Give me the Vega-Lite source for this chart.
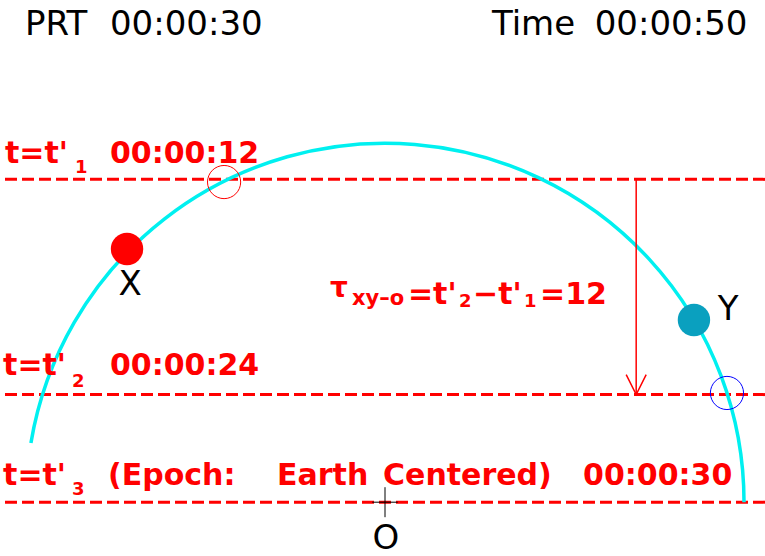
{
  "$schema": "https://vega.github.io/schema/vega-lite/v6.json",
  "width": 765,
  "height": 556,
  "autosize": {"type": "none"},
  "padding": 0,
  "background": "white",
  "config": {"view": {"stroke": null}},
  "datasets": {
    "levels": [
      {"label": "t'1", "t": 12},
      {"label": "t'2", "t": 24},
      {"label": "t'3", "t": 30}
    ],
    "orbit": [{"name": "orbit", "x": 0, "t": 30}],
    "arrow": [{"x": 14, "t": 12, "t2": 24}],
    "objects": [
      {"name": "X", "x": -14.38, "t": 15.88},
      {"name": "Y", "x": 17.22, "t": 19.84}
    ],
    "crossings": [
      {"name": "X", "x": -8.97, "t": 12.15},
      {"name": "Y", "x": 19.06, "t": 23.91}
    ],
    "origin": [{"name": "O", "x": 0, "t": 30}],
    "header": [
      {"text": "PRT", "x": -20.07, "t": 3.95},
      {"text": "00:00:30", "x": -15.33, "t": 3.95},
      {"text": "Time", "x": 5.96, "t": 3.95},
      {"text": "00:00:50", "x": 11.69, "t": 3.95}
    ],
    "names": [
      {"text": "X", "x": -14.21, "t": 18.45},
      {"text": "Y", "x": 19.12, "t": 19.84}
    ],
    "originName": [{"text": "O", "x": 0.05, "t": 33}],
    "redMain": [
      {"text": "t=t'", "x": -21.18, "t": 11.09},
      {"text": "00:00:12", "x": -15.33, "t": 11.09},
      {"text": "t=t'", "x": -21.29, "t": 22.91},
      {"text": "00:00:24", "x": -15.33, "t": 22.91},
      {"text": "t=t'", "x": -21.29, "t": 29.04},
      {"text": "(Epoch:", "x": -15.44, "t": 29.04},
      {"text": "Earth", "x": -6.02, "t": 29.04},
      {"text": "Centered)", "x": -0.11, "t": 29.04},
      {"text": "00:00:30", "x": 11.04, "t": 29.04},
      {"text": "=t'", "x": 1.28, "t": 18.95},
      {"text": "−t'", "x": 4.91, "t": 18.95},
      {"text": "=12", "x": 8.64, "t": 18.95}
    ],
    "redSub": [
      {"text": "1", "x": -17.28, "t": 11.65},
      {"text": "2", "x": -17.45, "t": 23.58},
      {"text": "3", "x": -17.45, "t": 29.6},
      {"text": "2", "x": 4.12, "t": 19.12},
      {"text": "1", "x": 7.75, "t": 19.12}
    ],
    "tau": [{"text": "τ", "x": -3.07, "t": 18.56}],
    "tauSub": [{"text": "xy–o", "x": -1.84, "t": 19.0}]
  },
  "layer": [
    {
      "data": {"name": "levels"},
      "mark": {"type": "rule", "color": "#ff0000", "strokeWidth": 3, "strokeDash": [12, 5]},
      "encoding": {
        "y": {"field": "t", "type": "quantitative", "scale": {"domain": [2, 33], "reverse": true, "nice": false, "zero": false}, "axis": null}
      }
    },
    {
      "data": {"name": "orbit"},
      "mark": {"type": "arc", "radius": 359, "radius2": 359, "theta": -1.405, "theta2": 1.5708, "filled": false, "stroke": "#00f0f0", "strokeWidth": 3.5},
      "encoding": {
        "x": {"field": "x", "type": "quantitative", "scale": {"domain": [-21.46, 21.18], "nice": false, "zero": false}, "axis": null},
        "y": {"field": "t", "type": "quantitative", "scale": {"domain": [2, 33], "reverse": true, "nice": false, "zero": false}, "axis": null}
      }
    },
    {
      "data": {"name": "arrow"},
      "mark": {"type": "rule", "color": "#ff0000", "strokeWidth": 1.5},
      "encoding": {
        "x": {"field": "x", "type": "quantitative", "scale": {"domain": [-21.46, 21.18], "nice": false, "zero": false}, "axis": null},
        "y": {"field": "t", "type": "quantitative", "scale": {"domain": [2, 33], "reverse": true, "nice": false, "zero": false}, "axis": null},
        "y2": {"field": "t2"}
      }
    },
    {
      "data": {"name": "arrow"},
      "mark": {"type": "point", "shape": "M-0.5,-1L0,0L0.5,-1", "size": 1600, "filled": false, "stroke": "#ff0000", "strokeWidth": 1.5, "opacity": 1},
      "encoding": {
        "x": {"field": "x", "type": "quantitative", "scale": {"domain": [-21.46, 21.18], "nice": false, "zero": false}, "axis": null},
        "y": {"field": "t2", "type": "quantitative", "scale": {"domain": [2, 33], "reverse": true, "nice": false, "zero": false}, "axis": null}
      }
    },
    {
      "data": {"name": "origin"},
      "mark": {"type": "point", "shape": "M-0.85,0L0.85,0M0,-1L0,1", "size": 900, "filled": false, "stroke": "#000000", "strokeWidth": 1, "opacity": 1},
      "encoding": {
        "x": {"field": "x", "type": "quantitative", "scale": {"domain": [-21.46, 21.18], "nice": false, "zero": false}, "axis": null},
        "y": {"field": "t", "type": "quantitative", "scale": {"domain": [2, 33], "reverse": true, "nice": false, "zero": false}, "axis": null}
      }
    },
    {
      "data": {"name": "crossings"},
      "mark": {"type": "point", "shape": "circle", "size": 1100, "filled": false, "strokeWidth": 1, "opacity": 1},
      "encoding": {
        "x": {"field": "x", "type": "quantitative", "scale": {"domain": [-21.46, 21.18], "nice": false, "zero": false}, "axis": null},
        "y": {"field": "t", "type": "quantitative", "scale": {"domain": [2, 33], "reverse": true, "nice": false, "zero": false}, "axis": null},
        "stroke": {"field": "name", "type": "nominal", "scale": {"domain": ["X", "Y"], "range": ["#ff0000", "#0000ff"]}, "legend": null}
      }
    },
    {
      "data": {"name": "objects"},
      "mark": {"type": "point", "shape": "circle", "size": 1050, "filled": true, "opacity": 1},
      "encoding": {
        "x": {"field": "x", "type": "quantitative", "scale": {"domain": [-21.46, 21.18], "nice": false, "zero": false}, "axis": null},
        "y": {"field": "t", "type": "quantitative", "scale": {"domain": [2, 33], "reverse": true, "nice": false, "zero": false}, "axis": null},
        "fill": {"field": "name", "type": "nominal", "scale": {"domain": ["X", "Y"], "range": ["#ff0000", "#0aa0bf"]}, "legend": null}
      }
    },
    {
      "data": {"name": "header"},
      "mark": {"type": "text", "align": "left", "baseline": "alphabetic", "font": "DejaVu Sans", "fontSize": 34, "color": "#000000"},
      "encoding": {
        "x": {"field": "x", "type": "quantitative", "scale": {"domain": [-21.46, 21.18], "nice": false, "zero": false}, "axis": null},
        "y": {"field": "t", "type": "quantitative", "scale": {"domain": [2, 33], "reverse": true, "nice": false, "zero": false}, "axis": null},
        "text": {"field": "text"}
      }
    },
    {
      "data": {"name": "names"},
      "mark": {"type": "text", "align": "center", "baseline": "alphabetic", "font": "DejaVu Sans", "fontSize": 34, "color": "#000000"},
      "encoding": {
        "x": {"field": "x", "type": "quantitative", "scale": {"domain": [-21.46, 21.18], "nice": false, "zero": false}, "axis": null},
        "y": {"field": "t", "type": "quantitative", "scale": {"domain": [2, 33], "reverse": true, "nice": false, "zero": false}, "axis": null},
        "text": {"field": "text"}
      }
    },
    {
      "data": {"name": "originName"},
      "mark": {"type": "text", "align": "center", "baseline": "bottom", "font": "DejaVu Sans", "fontSize": 34, "color": "#000000"},
      "encoding": {
        "x": {"field": "x", "type": "quantitative", "scale": {"domain": [-21.46, 21.18], "nice": false, "zero": false}, "axis": null},
        "y": {"field": "t", "type": "quantitative", "scale": {"domain": [2, 33], "reverse": true, "nice": false, "zero": false}, "axis": null},
        "text": {"field": "text"}
      }
    },
    {
      "data": {"name": "redMain"},
      "mark": {"type": "text", "align": "left", "baseline": "alphabetic", "font": "DejaVu Sans", "fontWeight": "bold", "fontSize": 30, "color": "#ff0000"},
      "encoding": {
        "x": {"field": "x", "type": "quantitative", "scale": {"domain": [-21.46, 21.18], "nice": false, "zero": false}, "axis": null},
        "y": {"field": "t", "type": "quantitative", "scale": {"domain": [2, 33], "reverse": true, "nice": false, "zero": false}, "axis": null},
        "text": {"field": "text"}
      }
    },
    {
      "data": {"name": "redSub"},
      "mark": {"type": "text", "align": "left", "baseline": "alphabetic", "font": "DejaVu Sans", "fontWeight": "bold", "fontSize": 18, "color": "#ff0000"},
      "encoding": {
        "x": {"field": "x", "type": "quantitative", "scale": {"domain": [-21.46, 21.18], "nice": false, "zero": false}, "axis": null},
        "y": {"field": "t", "type": "quantitative", "scale": {"domain": [2, 33], "reverse": true, "nice": false, "zero": false}, "axis": null},
        "text": {"field": "text"}
      }
    },
    {
      "data": {"name": "tau"},
      "mark": {"type": "text", "align": "left", "baseline": "alphabetic", "font": "DejaVu Sans", "fontWeight": "bold", "fontSize": 28, "color": "#ff0000"},
      "encoding": {
        "x": {"field": "x", "type": "quantitative", "scale": {"domain": [-21.46, 21.18], "nice": false, "zero": false}, "axis": null},
        "y": {"field": "t", "type": "quantitative", "scale": {"domain": [2, 33], "reverse": true, "nice": false, "zero": false}, "axis": null},
        "text": {"field": "text"}
      }
    },
    {
      "data": {"name": "tauSub"},
      "mark": {"type": "text", "align": "left", "baseline": "alphabetic", "font": "DejaVu Sans", "fontWeight": "bold", "fontSize": 21, "color": "#ff0000"},
      "encoding": {
        "x": {"field": "x", "type": "quantitative", "scale": {"domain": [-21.46, 21.18], "nice": false, "zero": false}, "axis": null},
        "y": {"field": "t", "type": "quantitative", "scale": {"domain": [2, 33], "reverse": true, "nice": false, "zero": false}, "axis": null},
        "text": {"field": "text"}
      }
    }
  ]
}
